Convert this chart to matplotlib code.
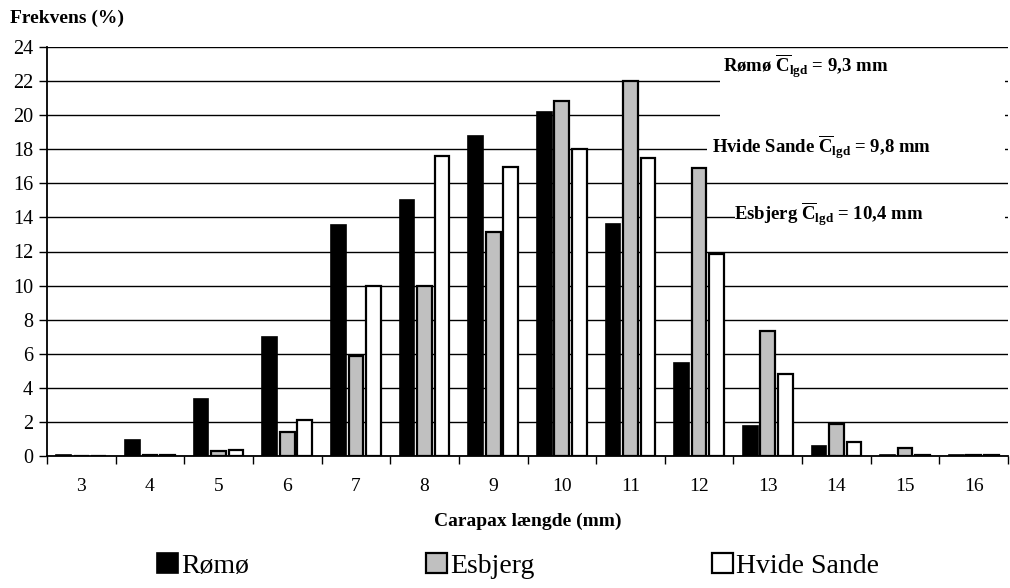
import numpy as np
import matplotlib
matplotlib.use('Agg')
import matplotlib.pyplot as plt
from matplotlib.patches import Rectangle, Patch

plt.rcParams['font.family'] = ['Liberation Serif', 'DejaVu Serif']
plt.rcParams['mathtext.fontset'] = 'custom'
plt.rcParams['mathtext.rm'] = 'Liberation Serif:bold'
plt.rcParams['mathtext.bf'] = 'Liberation Serif:bold'
plt.rcParams['mathtext.it'] = 'Liberation Serif:bold'

# data (percent per carapax length class)
lengths = [3, 4, 5, 6, 7, 8, 9, 10, 11, 12, 13, 14, 15, 16]
romo = [0.05, 0.95, 3.35, 7.0, 13.55, 15.0, 18.78, 20.19, 13.6, 5.46, 1.76, 0.59, 0.05, 0.05]
esbjerg = [0.0, 0.05, 0.28, 1.4, 5.85, 9.98, 13.15, 20.83, 22.0, 16.9, 7.33, 1.88, 0.47, 0.05]
hvide = [0.0, 0.05, 0.35, 2.1, 10.0, 17.6, 16.96, 18.0, 17.47, 11.85, 4.8, 0.82, 0.05, 0.05]
series = ['Rømø', 'Esbjerg', 'Hvide Sande']
notes = [r'Rømø $\overline{C}_{lgd}$ = 9,3 mm',
         r'Hvide Sande $\overline{C}_{lgd}$ = 9,8 mm',
         r'Esbjerg $\overline{C}_{lgd}$ = 10,4 mm']

fig = plt.figure(figsize=(10.1, 5.88), dpi=100)
ax = fig.add_axes([47/1010, 1-456/588, 961/1010, 409/588])

x = np.arange(len(lengths))
w = 0.215
step = 0.255
ax.bar(x - step, romo, w, color='black', edgecolor='black', lw=1.2, zorder=3)
ax.bar(x, esbjerg, w, color='#c0c0c0', edgecolor='black', lw=1.6, zorder=3)
ax.bar(x + step, hvide, w, color='white', edgecolor='black', lw=1.6, zorder=3)

ax.set_xlim(-0.5, len(lengths) - 0.5)
ax.set_ylim(0, 24)
ax.set_yticks(range(0, 25, 2))
ax.yaxis.grid(True, color='black', lw=1.0, zorder=0)
ax.set_axisbelow(True)
ax.set_xticks(x)
ax.set_xticklabels([str(v) for v in lengths])
ax.set_xticks(np.arange(-0.5, len(lengths)), minor=True)
ax.tick_params(axis='x', which='major', length=0, pad=16, labelsize=14)
ax.tick_params(axis='x', which='minor', length=6, width=1, direction='out')
ax.tick_params(axis='y', length=6, width=1, pad=4, labelsize=14.5)
for s in ['top', 'right']:
    ax.spines[s].set_visible(False)
ax.spines['left'].set_linewidth(1.3)
ax.spines['bottom'].set_linewidth(1.3)

# white boxes behind the annotations
for (x0, x1, y0, y1) in [(720, 1005, 72, 122), (707, 1005, 128, 172), (735, 1005, 195, 238)]:
    ax.add_patch(Rectangle(((x0-47)/961, (456-y1)/409), (x1-x0)/961, (y1-y0)/409,
                           transform=ax.transAxes, facecolor='white', edgecolor='none', zorder=2))
ax.text((806-47)/961, (456-66)/409, notes[0], transform=ax.transAxes, ha='center', va='center',
        fontsize=13.5, fontweight='bold', zorder=4)
ax.text((822-47)/961, (456-147)/409, notes[1], transform=ax.transAxes, ha='center', va='center',
        fontsize=13.5, fontweight='bold', zorder=4)
ax.text((829-47)/961, (456-214)/409, notes[2], transform=ax.transAxes, ha='center', va='center',
        fontsize=13.5, fontweight='bold', zorder=4)

fig.text(10/1010, 1-18/588, 'Frekvens (%)', fontsize=14, fontweight='bold', va='center', ha='left')
fig.text(528/1010, 1-521/588, 'Carapax længde (mm)', fontsize=14, fontweight='bold', va='center', ha='center')

handles = [Patch(facecolor='black', edgecolor='black', lw=1.2),
           Patch(facecolor='#c0c0c0', edgecolor='black', lw=1.6),
           Patch(facecolor='white', edgecolor='black', lw=1.6)]
fig.legend(handles, series, loc='center', bbox_to_anchor=(518/1010, 1-566/588), ncol=3,
           frameon=False, fontsize=20, handlelength=0.75, handleheight=0.75, handletextpad=0.1,
           columnspacing=6.4, borderaxespad=0)

fig.savefig('out.png', dpi=100)
